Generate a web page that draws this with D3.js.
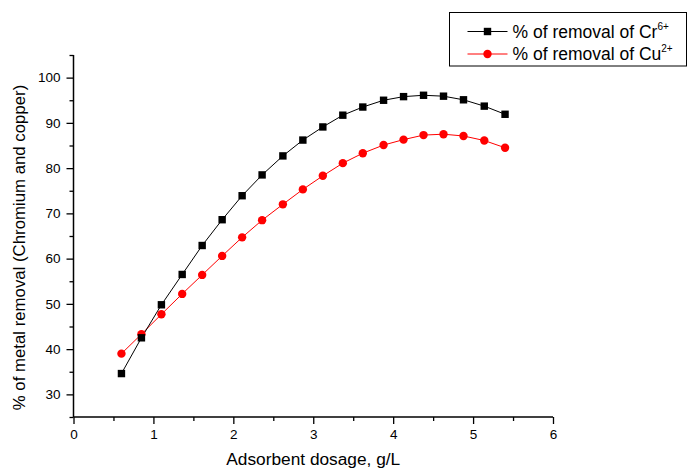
<!DOCTYPE html>
<html>
<head>
<meta charset="utf-8">
<script src="https://cdn.jsdelivr.net/npm/d3@7"></script>
<style>
  body { margin: 0; background: #fff; }
  svg { font-family: "Liberation Sans", Arial, sans-serif; display: block; }
</style>
</head>
<body>
<svg id="chart" width="687" height="468"></svg>
<script>
// adsorbent dosage (g/L)
const dosage = [0.6, 0.85, 1.1, 1.36, 1.61, 1.86, 2.11, 2.36, 2.62, 2.87,
                3.12, 3.37, 3.62, 3.88, 4.13, 4.38, 4.63, 4.88, 5.14, 5.4]
// % removal Cr(VI)
const chromium = [34.6, 42.5, 49.8, 56.5, 62.9, 68.6, 73.9, 78.5, 82.7, 86.2,
                  89.1, 91.7, 93.5, 95.0, 95.8, 96.1, 95.9, 95.1, 93.7, 91.9]
// % removal Cu(II)
const copper = [39.0, 43.3, 47.7, 52.2, 56.4, 60.6, 64.7, 68.5, 72.0, 75.3,
                78.3, 81.1, 83.3, 85.1, 86.3, 87.3, 87.5, 87.1, 86.1, 84.5]
const xTicks = [0, 1, 2, 3, 4, 5, 6]
const yTicks = [30, 40, 50, 60, 70, 80, 90, 100]

let margin = { top: 55, right: 134, bottom: 51, left: 73.5 }
let height = 468 - margin.top - margin.bottom

let svg = d3.select("#chart")
let chart = svg.append("g")
  .attr("transform", "translate(" + margin.left + "," + margin.top + ")")

let x = d3.scaleLinear().domain([0, 6]).range([0, 479.5])
let y = d3.scaleLinear().domain([25, 105]).range([height, 0])

// minor ticks
let xMinor = d3.axisBottom(x).tickValues(d3.range(0.5, 6, 1)).tickSize(4).tickFormat("")
chart.append("g")
  .attr("transform", "translate(0," + height + ")")
  .call(xMinor)
let yMinor = d3.axisLeft(y).tickValues([25, 35, 45, 55, 65, 75, 85, 95, 105]).tickSize(4).tickFormat("")
chart.append("g").call(yMinor)

// X-axis
let xAxis = d3.axisBottom(x).tickValues(xTicks).tickSize(7).tickPadding(5).tickFormat(d3.format("d"))
chart.append("g")
  .attr("id", "x-axis")
  .attr("transform", "translate(0," + height + ")")
  .call(xAxis)

// Y-axis
let yAxis = d3.axisLeft(y).tickValues(yTicks).tickSize(7).tickPadding(6).tickFormat(d3.format("d"))
chart.append("g")
  .attr("id", "y-axis")
  .call(yAxis)

chart.selectAll(".tick line").attr("stroke", "#000").attr("stroke-width", 1.3)
chart.selectAll(".tick text").attr("font-size", 13.5).attr("fill", "#000")
  .attr("font-family", "Liberation Sans, Arial, sans-serif")

// plain axis lines (no end caps)
chart.selectAll(".domain").remove()
chart.append("line").attr("x1", 0).attr("x2", x(6)).attr("y1", height).attr("y2", height)
  .attr("stroke", "#000").attr("stroke-width", 1.5)
chart.append("line").attr("x1", 0).attr("x2", 0).attr("y1", y(105)).attr("y2", height)
  .attr("stroke", "#000").attr("stroke-width", 1.5)

// axis titles
svg.append("text")
  .attr("x", margin.left + x(3))
  .attr("y", 464.5)
  .attr("text-anchor", "middle")
  .attr("font-size", 17.3)
  .text("Adsorbent dosage, g/L")

svg.append("text")
  .attr("transform", "translate(25," + 247.5 + ") rotate(-90)")
  .attr("text-anchor", "middle")
  .attr("font-size", 16.8)
  .text("% of metal removal (Chromium and copper)")

// series
let crData = dosage.map(function(d, i) { return { x: d, y: chromium[i] } })
let cuData = dosage.map(function(d, i) { return { x: d, y: copper[i] } })

let line = d3.line().x(function(d) { return x(d.x) }).y(function(d) { return y(d.y) })

chart.append("path").datum(cuData)
  .attr("fill", "none").attr("stroke", "#ff0000").attr("stroke-width", 1).attr("d", line)
chart.append("path").datum(crData)
  .attr("fill", "none").attr("stroke", "#000").attr("stroke-width", 1).attr("d", line)

chart.selectAll(".cu").data(cuData).enter().append("circle")
  .attr("class", "cu")
  .attr("cx", function(d) { return x(d.x) })
  .attr("cy", function(d) { return y(d.y) })
  .attr("r", 4.2)
  .attr("fill", "#ff0000")

chart.selectAll(".cr").data(crData).enter().append("rect")
  .attr("class", "cr")
  .attr("x", function(d) { return x(d.x) - 3.7 })
  .attr("y", function(d) { return y(d.y) - 3.7 })
  .attr("width", 7.4)
  .attr("height", 7.4)
  .attr("fill", "#000")

// legend
let legend = svg.append("g")
legend.append("rect")
  .attr("x", 449.5).attr("y", 12.5).attr("width", 237).attr("height", 53.5)
  .attr("fill", "#fff").attr("stroke", "#000").attr("stroke-width", 1)

let items = [
  { name: "% of removal of Cr", sup: "6+", color: "#000", shape: "square", y: 31.5 },
  { name: "% of removal of Cu", sup: "2+", color: "#ff0000", shape: "circle", y: 54 }
]
items.forEach(function(it) {
  legend.append("line")
    .attr("x1", 467.5).attr("x2", 507.5).attr("y1", it.y).attr("y2", it.y)
    .attr("stroke", it.color).attr("stroke-width", 1)
  if (it.shape === "square") {
    legend.append("rect").attr("x", 487.5 - 3.7).attr("y", it.y - 3.7)
      .attr("width", 7.4).attr("height", 7.4).attr("fill", it.color)
  } else {
    legend.append("circle").attr("cx", 487.5).attr("cy", it.y).attr("r", 4.2).attr("fill", it.color)
  }
  let t = legend.append("text")
    .attr("x", 512.5).attr("y", it.y + 6.2)
    .attr("font-size", 17.5)
    .text(it.name)
  t.append("tspan").attr("dy", -8).attr("font-size", 10).text(it.sup)
})
</script>
</body>
</html>
